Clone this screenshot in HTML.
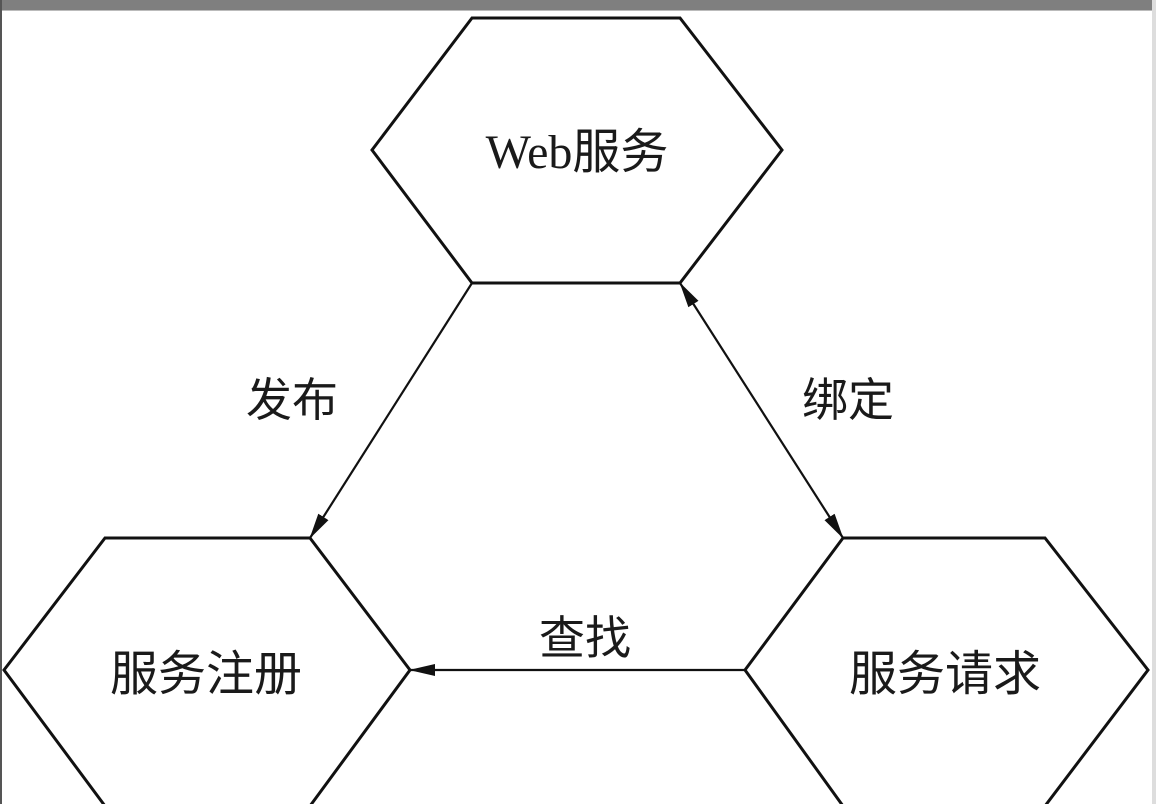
<!DOCTYPE html>
<html><head><meta charset="utf-8"><style>
html,body{margin:0;padding:0;background:#fff;}
svg{display:block}
text{font-family:"Liberation Serif","Noto Sans CJK SC",sans-serif;fill:#1a1a1a;}
</style></head><body>
<svg width="1156" height="804" viewBox="0 0 1156 804" xmlns="http://www.w3.org/2000/svg">
<defs>
<marker id="a" markerWidth="26" markerHeight="14" refX="25" refY="7" orient="auto" markerUnits="userSpaceOnUse">
<path d="M0,1 L26,7 L0,13 Z" fill="#111"/></marker>
<marker id="b" markerWidth="26" markerHeight="14" refX="1" refY="7" orient="auto" markerUnits="userSpaceOnUse">
<path d="M26,1 L0,7 L26,13 Z" fill="#111"/></marker>
</defs>
<rect x="0" y="0" width="1156" height="804" fill="#fff"/>
<rect x="0" y="0" width="1156" height="10" fill="#7f7f7f"/>
<rect x="0" y="10" width="1156" height="1" fill="#bbb"/>
<rect x="0" y="0" width="2" height="804" fill="#555"/>
<rect x="1152" y="0" width="4" height="804" fill="#ddd"/>
<g fill="none" stroke="#111" stroke-width="3">
<polygon points="472,18 680,18 782,150 680,283 472,283 372,150"/>
<polygon points="105,538 310,538 410,670 310,806 105,806 4,670"/>
<polygon points="843,538 1045,538 1148,670 1045,806 843,806 745,670"/>
</g>
<g stroke="#111" stroke-width="2.2">
<line x1="472" y1="283" x2="310" y2="538" marker-end="url(#a)"/>
<line x1="680" y1="283" x2="843" y2="538" marker-end="url(#a)" marker-start="url(#b)"/>
<line x1="745" y1="670" x2="410" y2="670" marker-end="url(#a)"/>
</g>
<text x="577" y="168" font-size="48" text-anchor="middle">Web服务</text>
<text x="206" y="690" font-size="48" text-anchor="middle">服务注册</text>
<text x="945" y="690" font-size="48" text-anchor="middle">服务请求</text>
<text x="292" y="416" font-size="46" text-anchor="middle">发布</text>
<text x="848" y="416" font-size="46" text-anchor="middle">绑定</text>
<text x="585" y="654" font-size="46" text-anchor="middle">查找</text>
</svg>
</body></html>
